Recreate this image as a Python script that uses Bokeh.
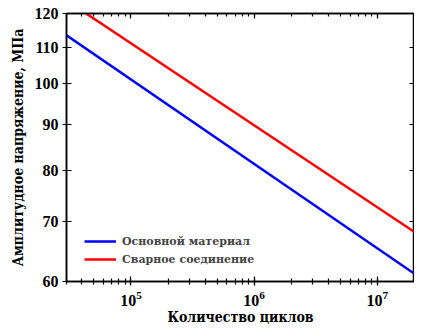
from bokeh.plotting import figure
from bokeh.models import LogAxis, FixedTicker, LogTicker, Legend, LegendItem, Range1d, CustomJSTickFormatter
from bokeh.embed import file_html
from bokeh.resources import INLINE

# Data
cycles_base = [3.0e4, 2.0e7]
stress_base = [113.4, 61.2]
cycles_weld = [4.33e4, 2.0e7]
stress_weld = [120.0, 68.2]
y_ticks = [60, 70, 80, 90, 100, 110, 120]
label_base = "Основной материал"
label_weld = "Сварное соединение"

FONT = "Liberation Serif"
CYR_FONT = "DejaVu Serif Condensed"

p = figure(width=414, height=327, x_axis_type="log", y_axis_type="log",
           x_range=Range1d(3.0e4, 2.0e7), y_range=Range1d(60, 120),
           output_backend="svg", toolbar_location=None,
           min_border_left=66, min_border_top=13, min_border_bottom=45, min_border_right=0)

p.xgrid.visible = False
p.ygrid.visible = False
p.outline_line_color = "black"
p.outline_line_width = 1.5

r1 = p.line(cycles_base, stress_base, line_color="#0000ff", line_width=2.5)
r2 = p.line(cycles_weld, stress_weld, line_color="#ff0000", line_width=2.5)

xt = LogTicker(mantissas=[1], num_minor_ticks=10)
yt = FixedTicker(ticks=y_ticks, minor_ticks=[])

def style(ax, labels=True):
    ax.axis_line_color = "black"
    ax.axis_line_width = 1.5
    ax.major_tick_in = 5
    ax.major_tick_out = 4
    ax.minor_tick_in = 3
    ax.minor_tick_out = 3
    ax.major_tick_line_color = "black"
    ax.minor_tick_line_color = "black"
    ax.major_tick_line_width = 1.2
    ax.minor_tick_line_width = 1.2
    ax.major_label_text_font = FONT
    ax.major_label_text_font_style = "bold"
    ax.major_label_text_font_size = "16px"
    ax.major_label_text_color = "black"
    ax.axis_label_text_font = CYR_FONT
    ax.axis_label_text_font_style = "bold"
    ax.axis_label_text_font_size = "14px"
    ax.axis_label_text_color = "black"
    if not labels:
        ax.formatter = CustomJSTickFormatter(code="return ''")
        ax.major_label_standoff = 0
        ax.major_label_text_font_size = "1px"
        ax.major_tick_out = 0
        ax.minor_tick_out = 0

p.xaxis.ticker = xt
p.yaxis.ticker = yt
style(p.xaxis[0])
style(p.yaxis[0])
p.xaxis.axis_label = "Количество циклов"
p.yaxis.axis_label = "Амплитудное напряжение, МПа"
p.xaxis.axis_label_standoff = 0
p.yaxis.axis_label_standoff = 6
p.yaxis.major_label_standoff = 4
p.xaxis.major_label_standoff = 5

top = LogAxis(ticker=LogTicker(mantissas=[1], num_minor_ticks=10))
style(top, labels=False)
p.add_layout(top, "above")
right = LogAxis(ticker=FixedTicker(ticks=y_ticks, minor_ticks=[]))
style(right, labels=False)
p.add_layout(right, "right")

legend = Legend(items=[LegendItem(label=label_base, renderers=[r1]),
                       LegendItem(label=label_weld, renderers=[r2])],
                location=(14, 9), border_line_alpha=0, background_fill_alpha=0,
                label_text_font="DejaVu Serif", label_text_font_style="bold",
                label_text_font_size="11px", glyph_width=32, glyph_height=18,
                label_standoff=6, spacing=0, padding=4)
p.add_layout(legend, "center")

open("out.html", "w").write(file_html(p, INLINE))
